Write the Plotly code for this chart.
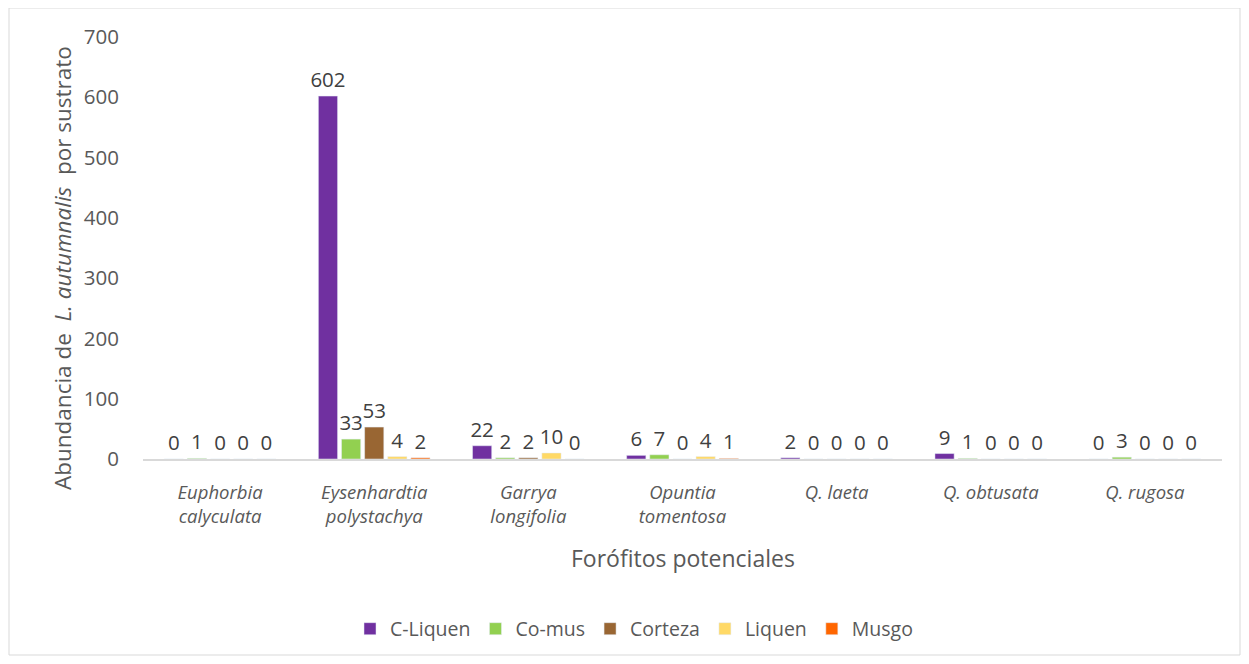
import plotly.graph_objects as go

categories = ["<i>Euphorbia</i><br><i>calyculata</i>", "<i>Eysenhardtia</i><br><i>polystachya</i>",
              "<i>Garrya</i><br><i>longifolia</i>", "<i>Opuntia</i><br><i>tomentosa</i>",
              "<i>Q. laeta</i>", "<i>Q. obtusata</i>", "<i>Q. rugosa</i>"]
series_names = ["C-Liquen", "Co-mus", "Corteza", "Liquen", "Musgo"]
c_liquen = [0, 602, 22, 6, 2, 9, 0]
co_mus = [1, 33, 2, 7, 0, 1, 3]
corteza = [0, 53, 2, 0, 0, 0, 0]
liquen = [0, 4, 10, 4, 0, 0, 0]
musgo = [0, 2, 0, 1, 0, 0, 0]
colors = ["#7030A0", "#92D050", "#996633", "#FFD966", "#FF6600"]

FONT = "Open Sans"
OFF = 8  # page body margin
W, H = 1249 - OFF, 664 - OFF
L, R, T = 143 - OFF, 27, 37 - OFF
PB = 459 - OFF  # plot bottom in figure coords
B = H - PB
pw, ph = W - L - R, H - T - B
def px(x): return (x - OFF - L) / pw
def py(y): return (PB - (y - OFF)) / ph

fig = go.Figure()
for name, vals, col in zip(series_names, [c_liquen, co_mus, corteza, liquen, musgo], colors):
    fig.add_trace(go.Bar(x=categories, y=vals, name=name, marker_color=col,
                         text=[str(v) for v in vals], textposition="outside",
                         constraintext="none",
                         textfont=dict(size=20.5, color="#404040", family=FONT),
                         cliponaxis=False))

fig.update_layout(
    width=W, height=H, autosize=False,
    margin=dict(l=L, r=R, t=T, b=B),
    paper_bgcolor="white", plot_bgcolor="white",
    barmode="group", bargap=0.25, bargroupgap=0.17,
    font=dict(family=FONT, color="#595959", size=18),
    showlegend=True,
    legend=dict(orientation="h", x=px(634), xanchor="center", y=py(629), yanchor="middle",
                font=dict(size=19.5, color="#595959", family=FONT), itemwidth=30,
                traceorder="normal"),
    xaxis=dict(showline=True, linecolor="#D9D9D9", linewidth=1.5, ticks="",
               ticklabelstandoff=16,
               tickfont=dict(size=18.5, color="#595959", family=FONT)),
    yaxis=dict(range=[0, 700], dtick=100, showgrid=False, zeroline=False,
               showline=False, ticks="", ticklabelstandoff=23,
               tickfont=dict(size=20.5, color="#595959", family=FONT)),
    annotations=[
        dict(text="Forófitos potenciales", xref="paper", yref="paper", x=0.5, y=py(558),
             showarrow=False, font=dict(size=23, color="#595959", family=FONT), yanchor="middle"),
        dict(text="Abundancia de  <i>L. autumnalis</i>  por sustrato", xref="paper", yref="paper",
             x=px(62), y=py(268), textangle=-90, showarrow=False,
             font=dict(size=22.5, color="#595959", family=FONT), xanchor="center", yanchor="middle"),
    ],
    shapes=[dict(type="rect", xref="paper", yref="paper", x0=px(9), x1=px(1240), y0=py(8), y1=py(655),
                 line=dict(color="#D9D9D9", width=1))],
)
fig.write_html("out.html")
